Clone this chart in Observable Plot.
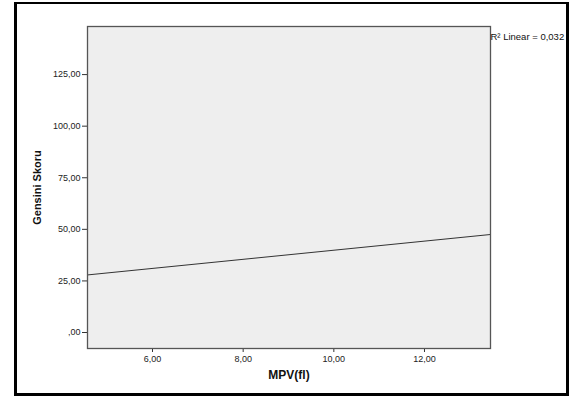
<!DOCTYPE html>
<html>
<head>
<meta charset="utf-8">
<script src="https://cdn.jsdelivr.net/npm/d3@7"></script>
<script src="https://cdn.jsdelivr.net/npm/@observablehq/plot@0.6"></script>
<style>
  html, body { margin: 0; padding: 0; background: #fff; }
  #wrap { position: relative; width: 574px; height: 396px; }
  #border { position: absolute; left: 14px; top: 2px; width: 555px; height: 394px; border: 3px solid #000; border-top-width: 2px; box-sizing: border-box; pointer-events: none; }
  #chart { position: absolute; left: 0; top: 0; }
</style>
</head>
<body>
<div id="wrap"><div id="chart"></div><div id="border"></div></div>
<script>
// Fit line endpoints
const mpv = [4.566, 13.456];
const gensiniFit = [27.9, 47.5];
const xTicks = [6, 8, 10, 12];
const yTicks = [0, 25, 50, 75, 100, 125];
const xTitle = "MPV(fl)";
const yTitle = "Gensini Skoru";
const r2Label = "R² Linear = 0,032";

const fmt = v => {
  const s = v.toFixed(2).replace(".", ",");
  return s.startsWith("0,") ? s.slice(1) : s;
};

const fitData = mpv.map((x, i) => ({x, y: gensiniFit[i]}));

const chart = Plot.plot({
  width: 574,
  height: 396,
  marginLeft: 87,
  marginRight: 84,
  marginTop: 26,
  marginBottom: 48,
  style: {fontFamily: "Liberation Sans, Arial, sans-serif", background: "transparent", color: "#222"},
  x: {domain: [4.566, 13.456]},
  y: {domain: [-7.75, 148.3]},
  marks: [
    Plot.frame({fill: "#eeeeee", stroke: null}),
    Plot.axisX({ticks: xTicks, tickFormat: fmt, tickSize: 4, tickPadding: 3, fontSize: 9, label: null, stroke: "#333"}),
    Plot.axisY({ticks: yTicks, tickFormat: fmt, tickSize: 5, tickPadding: 2, fontSize: 9, label: null, stroke: "#333"}),
    Plot.line(fitData, {x: "x", y: "y", stroke: "#333", strokeWidth: 1}),
    Plot.frame({stroke: "#555", strokeWidth: 1.3}),
    Plot.text([r2Label], {frameAnchor: "top-right", textAnchor: "start", dx: 0, dy: 7, fontSize: 9.5, fill: "#111"}),
    Plot.text([xTitle], {frameAnchor: "bottom", textAnchor: "middle", dy: 30, fontSize: 12, fontWeight: "bold", fill: "#111"}),
    Plot.text([yTitle], {frameAnchor: "left", textAnchor: "middle", dx: -50, rotate: -90, fontSize: 11, fontWeight: "bold", fill: "#111"})
  ]
});
document.getElementById("chart").appendChild(chart);
</script>
</body>
</html>
